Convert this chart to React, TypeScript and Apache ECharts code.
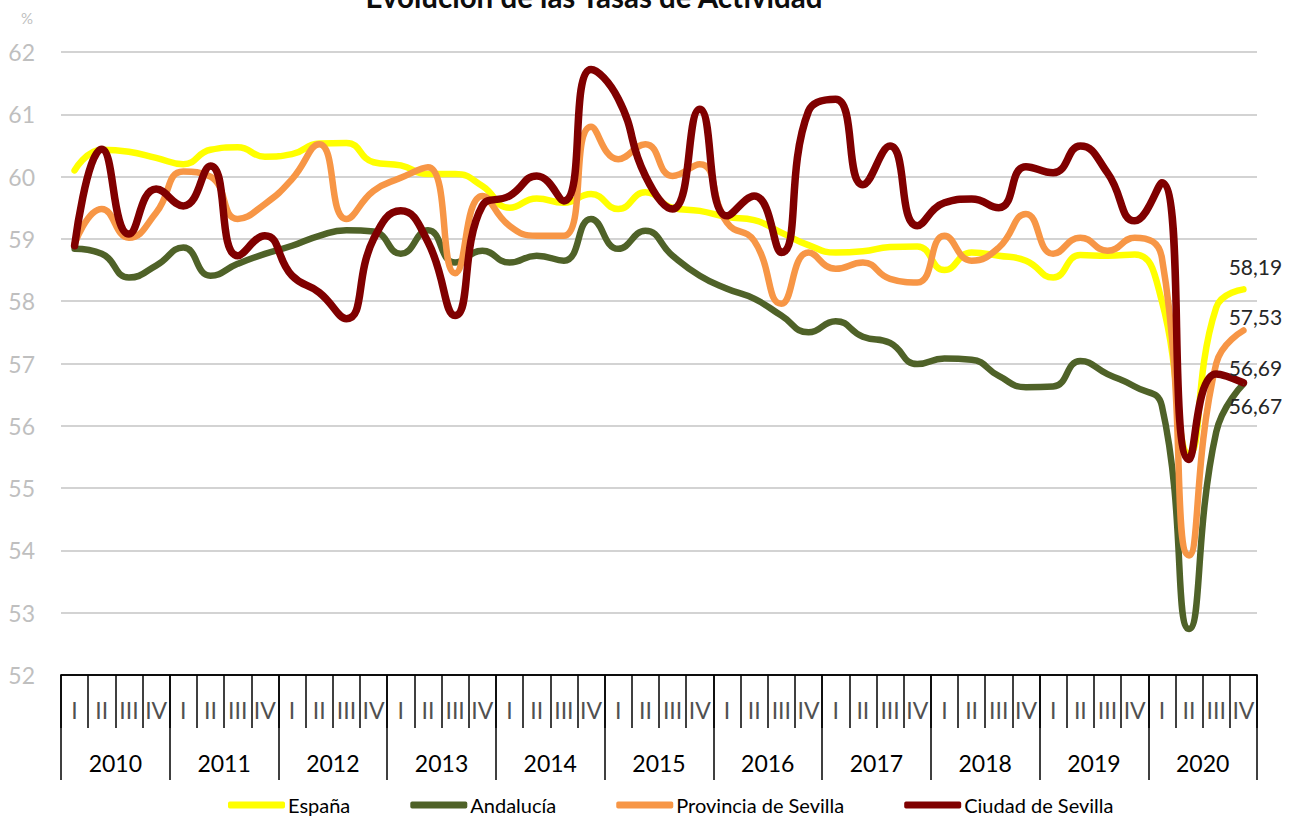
import React, { useEffect, useRef } from 'react';
import * as echarts from 'echarts';

const QUARTERS = ['I', 'II', 'III', 'IV'];
const YEARS = ['2010', '2011', '2012', '2013', '2014', '2015', '2016', '2017', '2018', '2019', '2020'];
const PERIODS = YEARS.flatMap((y) => QUARTERS.map((q) => `${y} ${q}`));
const Y_TICKS = { min: 52, max: 62, interval: 1 };

const TITLE = 'Evolución de las Tasas de Actividad';
const SERIES_NAMES = ['España', 'Andalucía', 'Provincia de Sevilla', 'Ciudad de Sevilla'];

const espana = [
  60.10, 60.43, 60.40, 60.30, 60.20, 60.43, 60.47, 60.32, 60.36, 60.53, 60.54, 60.23,
  60.18, 60.04, 60.04, 59.85, 59.50, 59.65, 59.58, 59.72, 59.48, 59.75, 59.50, 59.45,
  59.35, 59.30, 59.10, 58.90, 58.78, 58.80, 58.87, 58.88, 58.50, 58.78, 58.73, 58.65,
  58.38, 58.74, 58.73, 58.75, 58.00, 55.55, 57.90, 58.19,
];
const andalucia = [
  58.84, 58.76, 58.38, 58.57, 58.86, 58.41, 58.60, 58.76, 58.89, 59.05, 59.14, 59.12,
  58.76, 59.14, 58.62, 58.81, 58.62, 58.73, 58.65, 59.32, 58.84, 59.13, 58.73, 58.41,
  58.20, 58.04, 57.77, 57.50, 57.68, 57.43, 57.33, 56.99, 57.08, 57.06, 56.80, 56.62,
  56.63, 57.04, 56.83, 56.63, 56.32, 52.74, 55.90, 56.67,
];
const provincia = [
  58.92, 59.48, 59.02, 59.42, 60.08, 60.00, 59.32, 59.56, 59.96, 60.52, 59.32, 59.77,
  59.98, 60.15, 58.45, 59.69, 59.21, 59.05, 59.05, 60.80, 60.28, 60.52, 60.01, 60.20,
  59.26, 58.97, 57.96, 58.78, 58.52, 58.62, 58.36, 58.30, 59.05, 58.65, 58.86, 59.40,
  58.76, 59.02, 58.81, 59.02, 58.70, 53.92, 57.00, 57.53,
];
const ciudad = [
  58.89, 60.44, 59.08, 59.80, 59.53, 60.17, 58.73, 59.05, 58.41, 58.14, 57.72, 59.00,
  59.45, 58.95, 57.77, 59.53, 59.69, 60.01, 59.61, 61.72, 61.25, 60.01, 59.48, 61.08,
  59.37, 59.69, 58.78, 61.05, 61.24, 59.87, 60.49, 59.21, 59.58, 59.64, 59.50, 60.16,
  60.06, 60.49, 60.06, 59.29, 59.90, 55.46, 56.83, 56.69,
];

const COLORS = ['#FFFF00', '#4F6228', '#F79646', '#800000'];
const WIDTHS = [6.5, 6.5, 6.5, 7.5];
const FONT = 'Lato';

function makeSeries(name: string, values: number[], color: string, width: number, position: string, offset: number[]) {
  return {
    name,
    type: 'line',
    smooth: 0.5,
    symbol: 'none',
    showSymbol: true,
    data: values.map((v, i) =>
      i === values.length - 1
        ? {
            value: v,
            symbol: 'circle',
            symbolSize: 1,
            label: { show: true, position, offset },
          }
        : v
    ),
    lineStyle: { color, width, cap: 'round', join: 'round' },
    itemStyle: { color },
    label: {
      show: false,
      formatter: (p: any) => Number(p.value).toFixed(2).replace('.', ','),
      fontFamily: FONT,
      fontSize: 21,
      lineHeight: 21,
      color: '#262626',
    },
    emphasis: { disabled: true },
  };
}

export default function App() {
  const ref = useRef<HTMLDivElement>(null);
  useEffect(() => {
    if (!ref.current) return;
    const chart = echarts.init(ref.current, undefined, { renderer: 'svg' });
    chart.setOption({
      animation: false,
      backgroundColor: '#ffffff',
      grid: { left: 61, right: 40, top: 52, bottom: 143 },
      graphic: [
        {
          type: 'text',
          x: 594,
          y: -4,
          style: {
            text: TITLE,
            align: 'center',
            verticalAlign: 'middle',
            font: `bold 29.5px ${FONT}`,
            fill: '#0d0d0d',
          },
        },
        {
          type: 'text',
          x: 27,
          y: 18,
          style: {
            text: '%',
            align: 'center',
            verticalAlign: 'middle',
            font: `15px ${FONT}`,
            fill: '#BFBFBF',
          },
        },
      ],
      legend: {
        left: 223,
        top: 790,
        itemWidth: 57,
        itemHeight: 7,
        itemGap: 60,
        icon: 'roundRect',
        data: SERIES_NAMES,
        textStyle: { fontFamily: FONT, fontSize: 20, color: '#000', padding: [0, 0, 0, -2] },
      },
      xAxis: [
        {
          type: 'category',
          data: PERIODS,
          boundaryGap: true,
          axisLine: { show: true, lineStyle: { color: '#000', width: 1.5 } },
          axisTick: { show: true, interval: 0, length: 53, lineStyle: { color: '#000', width: 1.5 } },
          axisLabel: {
            interval: 0,
            margin: 23,
            formatter: (v: string) => v.split(' ')[1],
            fontFamily: FONT,
            fontSize: 23,
            color: '#505050',
          },
          splitLine: { show: false },
        },
        {
          type: 'category',
          data: YEARS,
          position: 'bottom',
          boundaryGap: true,
          axisLine: { show: true, lineStyle: { color: '#000', width: 1.5 } },
          axisTick: { show: true, interval: 0, length: 105, lineStyle: { color: '#000', width: 1.5 } },
          axisLabel: {
            interval: 0,
            margin: 76,
            fontFamily: FONT,
            fontSize: 23,
            color: '#000',
          },
          splitLine: { show: false },
        },
      ],
      yAxis: {
        type: 'value',
        min: Y_TICKS.min,
        max: Y_TICKS.max,
        interval: Y_TICKS.interval,
        axisLine: { show: false },
        axisTick: { show: false },
        axisLabel: { margin: 26, fontFamily: FONT, fontSize: 23, color: '#BFBFBF' },
        splitLine: { lineStyle: { color: '#C4C4C4', width: 1.5 } },
      },
      series: [
        makeSeries(SERIES_NAMES[0], espana, COLORS[0], WIDTHS[0], 'top', [12, -7]),
        makeSeries(SERIES_NAMES[1], andalucia, COLORS[1], WIDTHS[1], 'bottom', [12, 5]),
        makeSeries(SERIES_NAMES[2], provincia, COLORS[2], WIDTHS[2], 'top', [12, 2]),
        makeSeries(SERIES_NAMES[3], ciudad, COLORS[3], WIDTHS[3], 'top', [12, 1]),
      ],
    });
    return () => chart.dispose();
  }, []);
  return (
    <div
      ref={ref}
      style={{ position: 'fixed', left: 0, top: 0, width: 1297, height: 818, background: '#fff' }}
    />
  );
}
